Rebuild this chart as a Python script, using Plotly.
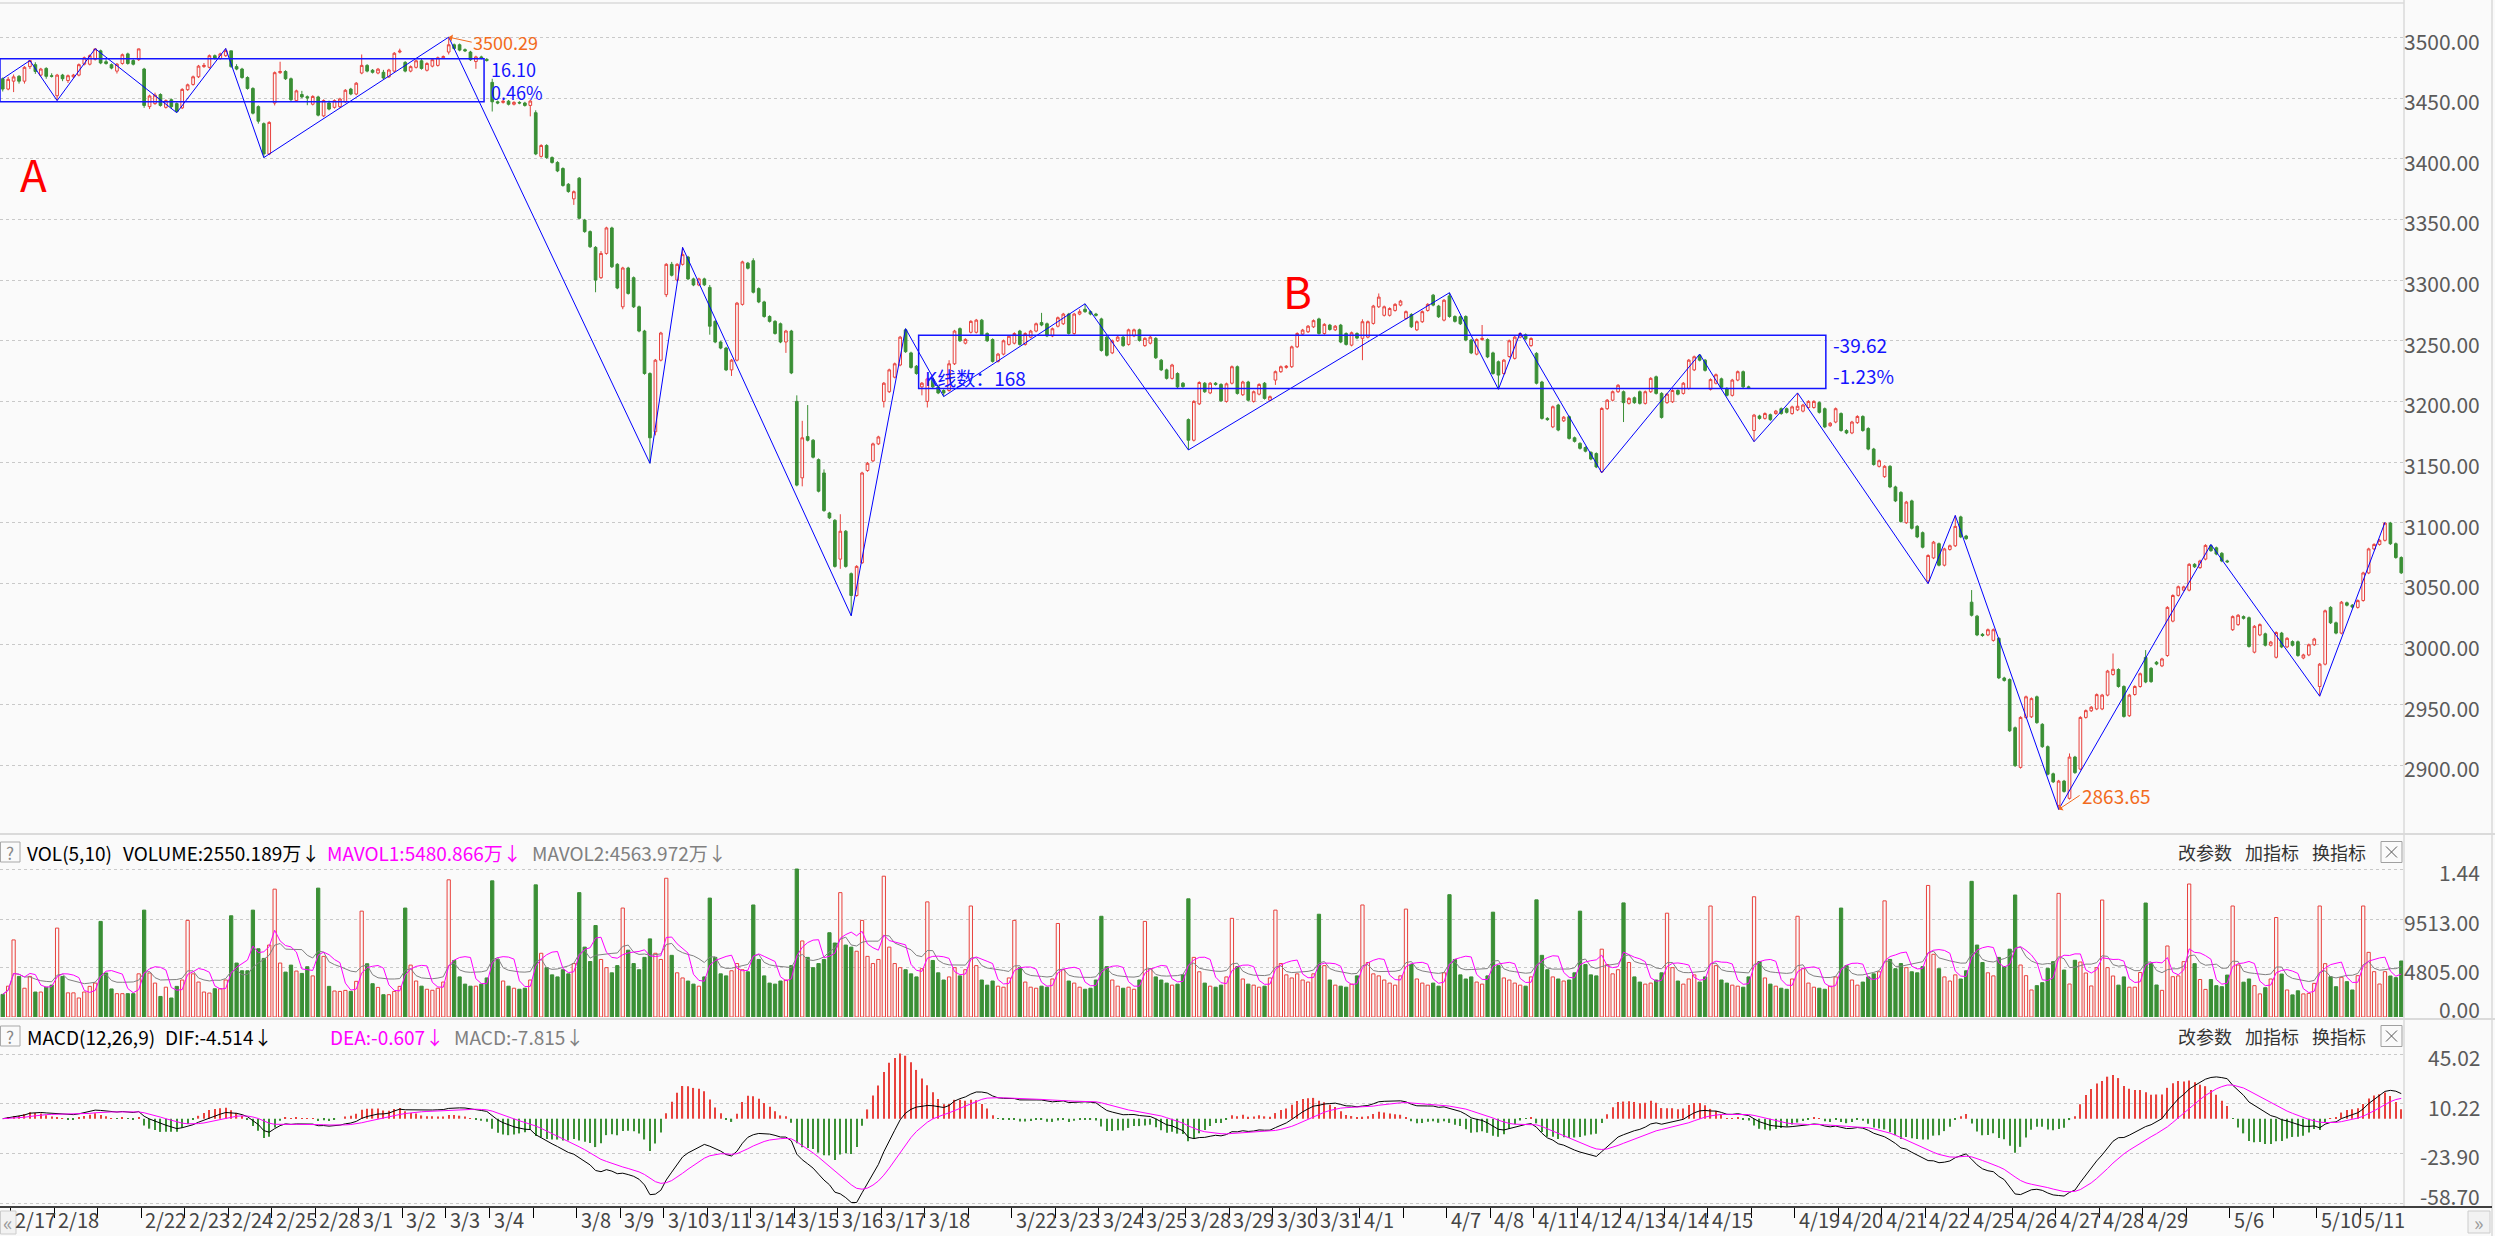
import numpy as np
import pandas as pd
import plotly.graph_objects as go

W, H = 2495, 1236

# ---------------- data (30-minute bars, 8 per trading day) ----------------
DAYS = ["2/17", "2/18", "2/21", "2/22", "2/23", "2/24", "2/25", "2/28", "3/1", "3/2", "3/3", "3/4",
        "3/7", "3/8", "3/9", "3/10", "3/11", "3/14", "3/15", "3/16", "3/17", "3/18", "3/21", "3/22",
        "3/23", "3/24", "3/25", "3/28", "3/29", "3/30", "3/31", "4/1", "4/6", "4/7", "4/8", "4/11",
        "4/12", "4/13", "4/14", "4/15", "4/18", "4/19", "4/20", "4/21", "4/22", "4/25", "4/26", "4/27",
        "4/28", "4/29", "5/5", "5/6", "5/9", "5/10", "5/11"]
HIDDEN_DAY_LABELS = ["2/21", "3/7", "3/21", "4/6", "4/18", "5/5", "5/9"]

OPEN = [
    3466, 3457.5,
    3464, 3468, 3464, 3476, 3477.6, 3469, 3474.5, 3468.5,
    3452, 3469, 3464.5, 3467.6, 3469, 3478, 3478, 3482,
    3489, 3480, 3477.6, 3472.3, 3478.6, 3486.5, 3481, 3481.7,
    3474, 3443, 3445.5, 3453, 3442.4, 3448.7, 3445.5, 3442,
    3457, 3461.3, 3467.6, 3476, 3475.4, 3485, 3482.7, 3485,
    3489, 3476, 3474, 3467, 3458, 3443, 3429, 3404,
    3446, 3471, 3472, 3466, 3448, 3453, 3451.2, 3445,
    3451, 3435.4, 3446, 3442.4, 3443, 3447, 3457.5, 3453.4,
    3470.7, 3477, 3473, 3470.7, 3471.3, 3467.6, 3472.3, 3488,
    3479.5, 3472.3, 3475.4, 3480.8, 3473, 3476.4, 3477, 3483.3,
    3488, 3494, 3494, 3490, 3488, 3480.2, 3484, 3482,
    3463, 3447, 3446.5, 3447.5, 3445, 3446.5, 3446, 3444,
    3438, 3402, 3411, 3401, 3397, 3392, 3379, 3367,
    3384, 3349.5, 3340, 3327, 3302, 3322, 3343, 3313,
    3278, 3310, 3302, 3278, 3258, 3223, 3175, 3234,
    3288, 3313, 3300, 3313, 3319, 3301, 3296, 3301,
    3294, 3266, 3249, 3244, 3226, 3234, 3280, 3314,
    3316, 3293, 3282, 3270, 3266, 3264, 3249, 3258,
    3200, 3137, 3171, 3168, 3152, 3141, 3108, 3102,
    3070, 3093, 3058, 3040, 3067, 3143, 3151, 3165,
    3200, 3208, 3220, 3230, 3259, 3240, 3229, 3212,
    3200, 3218, 3212, 3209, 3209, 3231, 3260, 3248,
    3257, 3257, 3267, 3256, 3251, 3233, 3239, 3247,
    3248, 3258, 3247, 3253, 3258, 3265, 3264, 3254,
    3262, 3264, 3272, 3256, 3272, 3276, 3274, 3272,
    3268, 3253, 3240, 3250, 3253, 3247, 3254, 3259,
    3246, 3248, 3252, 3234, 3226, 3219, 3223, 3215,
    3185, 3168, 3198, 3215, 3207, 3215, 3214, 3200,
    3215, 3228.6, 3205.5, 3216, 3200, 3206, 3215, 3201,
    3217.6, 3224.5, 3228, 3228.6, 3245, 3255.5, 3257.4, 3261.5,
    3268, 3256, 3262.9, 3259, 3262.9, 3256, 3246.4, 3256,
    3252, 3253, 3264.3, 3278, 3271, 3271, 3275, 3279.4,
    3268.4, 3271.7, 3259, 3265.7, 3275, 3287.6, 3278.6, 3267,
    3287, 3270, 3269.8, 3270, 3250.6, 3239, 3251, 3251,
    3240, 3232.7, 3223, 3237, 3235.5, 3253, 3255, 3246,
    3239.6, 3216, 3186, 3179, 3197, 3184, 3187.4, 3170,
    3165.4, 3162, 3158, 3157, 3142, 3194, 3201, 3208,
    3208, 3198.4, 3203, 3208, 3198.4, 3208, 3220.3, 3206.6,
    3199, 3199.7, 3209, 3206.6, 3210.7, 3226, 3238, 3234,
    3210, 3215, 3218.6, 3210.7, 3205, 3217.6, 3224.5, 3212,
    3176, 3188, 3186, 3189, 3190, 3194, 3194, 3190,
    3193, 3192, 3195, 3195, 3199, 3194, 3180, 3183,
    3190, 3176, 3174, 3182.5, 3187.6, 3177.7, 3160.7, 3146.5,
    3138, 3146.5, 3129.5, 3125, 3100, 3118, 3097, 3091.8,
    3052, 3071, 3082.7, 3065, 3078, 3081, 3104.8, 3089,
    3034.5, 3023, 3008, 3007.5, 3003, 3004.7, 2972, 2970.7,
    2931, 2898.3, 2939.5, 2940, 2956.5, 2933.8, 2915.4, 2893,
    2867, 2887, 2872.8, 2906.8, 2896.9, 2939.5, 2945, 2946.5,
    2946.5, 2957.9, 2974.9, 2979, 2965, 2940.9, 2958.4, 2965,
    2989, 2980, 2985, 2982, 2990.5, 3018.9, 3040.1, 3044.4,
    3044.4, 3065.7, 3063, 3070, 3081, 3079.3, 3074.8, 3068.5,
    3011.8, 3016, 3022.6, 3021.7, 2993.3, 3007.5, 3008.4, 2999,
    2989.1, 3009, 2997.6, 3002, 3001.9, 2988.5, 2991, 2999.4,
    2965, 2983.4, 3030.2, 3017.5, 3009, 3034, 3032, 3030.2,
    3035.9, 3058.6, 3078.4, 3082.1, 3085.5, 3099.7, 3082.7, 3071.3,
]

CLOSE = [
    3457.5, 3465.5,
    3467.5, 3464, 3475.4, 3481, 3472, 3474, 3468, 3468,
    3469, 3466, 3468.5, 3469, 3477.6, 3483.3, 3485, 3490.6,
    3479, 3478.6, 3474.8, 3478, 3485.8, 3478.6, 3478, 3490.6,
    3444, 3451.8, 3452.5, 3444, 3448, 3443, 3439, 3457.2,
    3461, 3467.6, 3476.4, 3477, 3485, 3482.7, 3486.5, 3489.2,
    3476, 3474, 3467, 3458, 3437.6, 3431, 3404, 3430,
    3471, 3472, 3466, 3448.7, 3456, 3451, 3450.2, 3451.4,
    3436, 3448, 3441, 3448, 3449.3, 3456.5, 3453.4, 3462.3,
    3477, 3472.3, 3471.3, 3473.9, 3466.6, 3473.2, 3487, 3488.8,
    3472.3, 3476, 3480.8, 3474.5, 3478.6, 3481.7, 3483.3, 3484.2,
    3494, 3491, 3489.6, 3489, 3481.7, 3484, 3483, 3481.1,
    3447, 3446, 3447.5, 3445, 3446.5, 3446, 3444, 3447.6,
    3404, 3411, 3401, 3397, 3390, 3378, 3373, 3372.9,
    3351, 3340, 3327.5, 3300, 3322, 3343, 3311, 3293.5,
    3310, 3289, 3278, 3258, 3223, 3170, 3234, 3256.4,
    3313, 3304, 3313, 3321, 3301, 3296, 3301, 3296.1,
    3262, 3249, 3244, 3226, 3234, 3281, 3315, 3309.8,
    3290, 3282, 3270, 3266, 3256, 3249, 3258, 3223.5,
    3131, 3170, 3168, 3154, 3126, 3110, 3104, 3064,
    3093, 3064, 3040, 3064, 3141, 3149, 3165, 3170.7,
    3215, 3226, 3231, 3253, 3241, 3228, 3223, 3215,
    3218.6, 3212, 3207, 3207, 3231, 3258, 3250, 3251.1,
    3266, 3267, 3255, 3250, 3233, 3239, 3250, 3253.7,
    3256, 3247, 3256, 3258, 3264, 3263, 3254, 3259.9,
    3269, 3272, 3256, 3272, 3274, 3274, 3272, 3271,
    3242, 3238, 3250, 3253, 3246, 3259, 3259, 3250.3,
    3252, 3253, 3236, 3226, 3219, 3230, 3212, 3212.2,
    3168, 3200, 3215.6, 3208, 3215, 3214, 3200.5, 3214.5,
    3228.6, 3206.6, 3216, 3201, 3208, 3214, 3202.5, 3203.9,
    3224.5, 3228.6, 3229, 3245, 3256, 3258.8, 3262, 3266.6,
    3256, 3263.5, 3259.3, 3262, 3249, 3247, 3256.6, 3252.2,
    3265.7, 3265.7, 3278.6, 3286, 3278, 3276.6, 3280, 3282.7,
    3274, 3261.5, 3265.7, 3274, 3280, 3279.4, 3269.8, 3283.4,
    3270, 3266, 3264, 3250.6, 3240, 3251, 3252, 3236.7,
    3223, 3221.7, 3234, 3250, 3253, 3256, 3251.6, 3251.9,
    3215, 3186, 3185, 3195.6, 3176.4, 3187, 3169.5, 3167.1,
    3161.3, 3159, 3152.5, 3146, 3194.2, 3201, 3208, 3213.3,
    3199, 3202.5, 3199, 3198.4, 3208, 3219, 3206.6, 3186.8,
    3206, 3209, 3206, 3215, 3234, 3236.8, 3234, 3225.6,
    3218, 3222, 3211.6, 3205, 3217.6, 3224.5, 3212, 3211.2,
    3188.7, 3186, 3190, 3185, 3192, 3190, 3191, 3195.5,
    3196, 3197, 3200, 3200, 3191, 3179, 3182, 3194,
    3176, 3174, 3183, 3187.6, 3176, 3160.7, 3148, 3151.1,
    3146.5, 3129.5, 3118, 3101, 3117, 3095.4, 3088.3, 3079.8,
    3073, 3084, 3065, 3078.4, 3081, 3097, 3088.3, 3086.9,
    3023.7, 3007.5, 3007, 3011.8, 3011.8, 2972.1, 2970, 2928.5,
    2899.7, 2939.5, 2956.5, 2955, 2935.2, 2915.4, 2892.7, 2886.4,
    2887, 2878.5, 2906.8, 2894, 2939.5, 2945.1, 2947.9, 2958.3,
    2957.9, 2977.7, 2979.2, 2965, 2940.3, 2957.9, 2965, 2975.5,
    2968.7, 2969, 2983.5, 2987.7, 3030.2, 3040, 3047.2, 3047.1,
    3065.7, 3063.7, 3068.5, 3081.3, 3077, 3074.2, 3068.5, 3067.8,
    3022.6, 3023.7, 3021.2, 2998, 3014.6, 3016, 2999, 3001.6,
    3009.5, 2997.6, 3004.7, 2999, 2990.5, 2991, 2999.4, 3004.1,
    2983.4, 3027.4, 3017.5, 3009, 3034.5, 3032, 3030.5, 3035.8,
    3058.6, 3078.4, 3082.1, 3085.5, 3099.7, 3082.7, 3071.3, 3058.7,
]

# wick lengths above the body top / below the body bottom (index points)
WICK_UP = [
    1, 2,
    2, 1, 1, 0, 2, 1, 1, 2,
    1, 1, 1, 1, 1, 1, 1, 0.2,
    1, 2, 1, 1, 1, 1, 1, 0.2,
    1, 1, 2, 1, 1, 1, 1, 1,
    1, 1, 1, 2, 1, 1, 1, 1.8,
    0, 2, 1, 1, 1, 1, 1, 1,
    1, 8, 1, 1, 1, 3, 1, 1,
    1, 1, 2, 1, 1, 1, 1, 1,
    9, 1, 1, 1, 2, 1, 1, 2,
    1, 1, 1, 2, 1, 1, 1, 1,
    6.29, 1, 1, 1, 1, 1, 1, 1,
    3, 1, 1, 1, 1, 1, 1, 1,
    2, 1, 1, 1, 1, 1, 1, 1,
    1, 1, 1, 1, 2, 1, 1, 1,
    1, 1, 1, 1, 1, 1, 1, 1,
    1, 2, 1, 6, 1, 1, 1, 1,
    2, 1, 1, 1, 1, 1, 1, 1,
    2, 1, 1, 1, 1, 1, 1, 1,
    5, 14, 26, 1, 1, 3, 1, 1,
    14, 1, 1, 1, 1, 1, 1, 1,
    1, 1, 1, 1, 1, 1, 1, 1,
    1, 1, 1, 1, 3, 1, 1, 1,
    1, 1, 1, 1, 1, 1, 1, 1,
    1, 1, 1, 1, 1, 8, 1, 1,
    1, 1, 1, 1, 2, 4.5, 1, 1,
    1, 1, 1, 1, 1, 1, 1, 1,
    1, 1, 1, 1, 1, 1, 1, 1,
    1, 1, 1, 1, 1, 1, 1, 1,
    1, 1, 1, 1, 1, 1, 1, 1,
    1, 1, 1, 1, 1, 1, 1, 1,
    1, 1, 1, 1, 1, 1, 1, 1,
    2, 1, 1, 3, 1, 1, 1, 1,
    1, 1, 1, 1, 1, 1, 1, 1,
    2.6, 1, 1, 1, 1, 1, 11, 1,
    1, 1, 1, 1, 1, 0.6, 1, 1,
    1, 1, 1, 1, 1, 1, 1, 1,
    1, 1, 1, 1, 1, 1, 1, 1,
    1, 1, 1, 1, 1, 1, 1, 1,
    1, 1, 1, 1, 1, 1, 1, 1,
    1, 1, 1, 1, 1, 1, 1, 1,
    1, 1, 1, 1, 1, 1, 1, 1,
    11, 1, 1, 1, 1, 1, 1, 1,
    1, 1, 1, 1, 1, 1, 1, 1,
    1, 1, 1, 1, 1, 1, 1, 1,
    1, 1, 1, 1, 1, 9, 1, 1,
    10, 1, 1, 1, 1, 1, 1, 1,
    1, 1, 1, 1, 1, 1, 1, 1,
    1, 1, 3, 1, 1, 1, 1, 1,
    1, 1, 13, 1, 1, 1, 1, 1,
    6, 1, 1, 1, 1, 1, 1, 1,
    1, 1, 1, 1, 1.1, 1, 1, 1,
    1, 1, 1, 1, 1, 1, 1, 1,
    1, 1, 1, 1, 1, 1, 1, 1,
    1, 1, 1, 1, 1, 1, 1, 1,
    1, 1, 1, 1, 0.6, 1, 1, 1,
]

WICK_DN = [
    2, 1,
    9, 2, 2, 2, 2, 1, 2, 1,
    4, 2, 2, 1, 1, 1, 1, 1,
    1, 1, 1, 2, 1, 1, 1, 1,
    2, 2, 1, 1, 1, 2, 1, 1,
    1, 1, 1, 1, 1, 1, 1, 1,
    1, 1, 1, 1, 1, 2, 3, 1,
    2, 1, 1, 1, 1, 1, 6, 1,
    1, 1, 1, 1, 1, 1, 1, 1,
    1, 1, 1, 1, 1, 1, 1, 1,
    1, 1, 1, 1, 1, 1, 1, 1,
    2, 1, 1, 1, 1, 6, 1, 1,
    8, 1, 1, 1, 1, 1, 1, 9,
    1, 1, 1, 1, 1, 1, 1, 5,
    1, 1, 1, 10, 1, 1, 1, 1,
    2, 1, 1, 1, 1, 21, 3, 1,
    2, 1, 1, 1, 1, 1, 1, 1,
    7, 1, 1, 1, 5, 1, 1, 1,
    1, 1, 1, 1, 1, 1, 9, 1,
    1, 7, 1, 1, 1, 1, 1, 1,
    8, 1, 16.7, 1, 1, 1, 1, 1,
    5, 1, 1, 1, 1, 1, 1, 7,
    5, 1, 1, 3, 1, 1, 1, 1,
    1, 1, 1, 1, 1, 1, 1, 1,
    1, 1, 1, 1, 1, 1, 1, 1,
    1, 1, 1, 1, 1, 1, 1, 1,
    1, 1, 1, 1, 1, 1, 1, 1,
    1, 1, 1, 1, 1, 1, 1, 1,
    8, 1, 1, 1, 1, 1, 1, 1,
    1, 1, 1, 1, 1, 1, 1, 1,
    4, 1, 1, 1, 1, 1, 1, 1,
    1, 1, 1, 1, 1, 1, 1, 1,
    18, 1, 1, 1, 1, 1, 1, 1,
    1, 1, 1, 1, 1, 1, 1, 1,
    1, 1, 1, 1, 1, 1, 1, 1,
    1, 11.7, 1, 1, 1, 1, 1, 1,
    1, 1, 1, 1, 1, 1, 1, 1,
    1, 1, 1, 1, 0.8, 1, 1, 1,
    16, 1, 1, 1, 1, 1, 1, 1,
    1, 1, 1, 1, 1, 1, 1, 1,
    1, 1, 1, 1, 1, 1, 1, 1,
    9.2, 1, 1, 1, 1, 1, 1, 1,
    1, 1, 1, 1, 1, 1, 1, 1,
    1, 1, 1, 1, 1, 1, 1, 1,
    1, 1, 1, 1, 1, 1, 1, 1,
    2.2, 1, 1, 1, 1, 1, 1, 1,
    1, 1, 1, 1, 1, 1, 1, 1,
    1, 1, 1, 1, 1, 1, 1, 1,
    3.35, 1, 1, 1, 1, 1, 1, 1,
    1, 1, 1, 1, 1, 1, 1, 1,
    1, 1, 1, 1, 1, 1, 1, 1,
    1, 1, 1, 1, 1, 1, 1, 1,
    1, 1, 1, 1, 1, 1, 1, 1,
    1, 1, 1, 1, 1, 1, 1, 1,
    8, 1, 1, 1, 1, 1, 1, 1,
    1, 1, 1, 1, 1, 1, 1, 1,
]

# volume in 万
VOLUME = [
    2200, 3000,
    7500, 3950, 2800, 3950, 2430, 2430, 2900, 3100,
    8650, 3950, 2350, 2350, 1850, 2430, 2980, 3300,
    9300, 4280, 2730, 2270, 2270, 2270, 2270, 4200,
    10400, 4280, 3300, 2000, 2900, 1850, 2980, 3600,
    9400, 4200, 3400, 2430, 2330, 2750, 2750, 3600,
    9850, 5250, 4500, 4500, 10400, 6640, 5700, 7000,
    12440, 5250, 4370, 5050, 4470, 4240, 4890, 4000,
    12540, 5900, 2980, 2530, 2490, 2590, 2490, 3470,
    10300, 5180, 3240, 2880, 2170, 2170, 2490, 2980,
    10600, 5050, 3500, 3000, 2700, 2600, 2800, 3400,
    13350, 5500, 3900, 3200, 3000, 3000, 3200, 3800,
    13250, 5600, 3500, 3000, 2800, 2700, 2800, 3600,
    12860, 6200, 4800, 4100, 3900, 4600, 4200, 5200,
    12100, 6800, 5400, 8900, 5600, 4800, 4300, 5000,
    10600, 6500, 5200, 4600, 5800, 7600, 6200, 5600,
    13500, 6000, 4300, 3800, 3500, 3200, 3000, 3900,
    11570, 5800, 4200, 4000, 4500, 5200, 4600, 4400,
    10900, 5600, 4000, 3300, 3200, 3500, 3600, 5000,
    14400, 7400, 5800, 4800, 5200, 5600, 8200, 7200,
    12100, 7000, 6800, 6400, 9400, 5900, 5200, 5600,
    13700, 6800, 5200, 4800, 4600, 4200, 3900, 4700,
    11200, 5500, 4300, 3600, 3900, 4800, 4000, 4600,
    10800, 5000, 3600, 3100, 3500, 3000, 2900, 3800,
    9400, 4800, 3400, 2900, 2800, 3000, 2900, 3700,
    9100, 4600, 3500, 3300, 2900, 2700, 2800, 3600,
    9800, 4900, 3600, 3000, 2800, 2900, 2700, 3600,
    9300, 4700, 3900, 3600, 3300, 3100, 3200, 4100,
    11500, 5800, 4400, 3300, 3000, 2900, 3100, 3900,
    9600, 4900, 3700, 3200, 3100, 2900, 3000, 3800,
    10400, 5200, 4100, 3800, 4200, 3600, 3400, 4200,
    10000, 5000, 3600, 3100, 3000, 2900, 3200, 4000,
    10900, 5300, 4200, 4000, 3600, 3300, 3100, 4000,
    10500, 5100, 3700, 3300, 3100, 3300, 3000, 4300,
    11900, 5600, 4100, 3700, 3900, 3400, 3200, 4000,
    10200, 5000, 3800, 3600, 3300, 3100, 3000, 3900,
    11400, 6000, 4600, 3900, 3700, 3500, 3600, 4300,
    10300, 5100, 4100, 4000, 6600, 5100, 4200, 4600,
    11100, 5300, 3900, 3400, 3200, 3300, 3600, 4300,
    10100, 4800, 3500, 3200, 3700, 4100, 3400, 3900,
    10800, 5000, 3600, 3300, 3100, 3000, 2900, 3900,
    11700, 5400, 3800, 3200, 3000, 2800, 2700, 3700,
    9800, 4700, 3300, 2900, 2800, 2700, 3000, 3900,
    10600, 5000, 3600, 3100, 3400, 3900, 4200, 4400,
    11300, 5600, 4700, 5200, 4800, 4400, 4300, 4900,
    12800, 6100, 4700, 3900, 3500, 4100, 3700, 4500,
    13200, 7000, 5300, 4300, 4000, 5800, 4900, 6600,
    11870, 5060, 4020, 2630, 3050, 3340, 4730, 5385,
    12030, 4570, 3210, 5520, 5350, 4280, 3020, 4800,
    11380, 4800, 3990, 3100, 3900, 2900, 2900, 4330,
    11090, 5200, 3115, 2595, 6910, 3920, 4000, 5385,
    12940, 5190, 3650, 2685, 3650, 3050, 2950, 4080,
    10800, 5060, 3390, 3700, 3050, 2250, 2850, 3700,
    9680, 4180, 2630, 2150, 2550, 2250, 2300, 3270,
    10800, 5190, 3920, 2950, 3860, 3440, 2630, 4020,
    10800, 6290, 4410, 3210, 4410, 3990, 3830, 5450,
]

# zig-zag turning points (bar index, which price: O=open, H=high, L=low)
ZIG_BARS = [0, 5, 10, 17, 32, 41, 48, 82, 119, 125, 156, 166, 173, 199, 218, 266, 275, 279,
            294, 312, 322, 330, 354, 359, 378, 406, 426, 438]
ZIG_KIND = ["O", "H", "L", "H", "L", "H", "L", "H", "L", "H", "L", "H", "L", "H", "L", "H", "L", "H",
            "L", "H", "L", "H", "L", "H", "L", "H", "L", "H"]

PRICE_TICKS = [2900, 2950, 3000, 3050, 3100, 3150, 3200, 3250, 3300, 3350, 3400, 3450, 3500]
VOL_TICKS = [0, 4805, 9513, 14400]
VOL_TICK_TEXT = ["0.00", "4805.00", "9513.00", "1.44"]
MACD_TICKS = [45.02, 10.22, -23.90, -58.70]
MACD_TICK_TEXT = ["45.02", "10.22", "-23.90", "-58.70"]

n = len(CLOSE)
assert len(OPEN) == n == len(WICK_UP) == len(WICK_DN) == len(VOLUME) == 2 + 8 * len(DAYS)

# ---------------- derived series ----------------
x = np.arange(n)
o = np.array(OPEN, float)
c = np.array(CLOSE, float)
hi = np.maximum(o, c) + np.array(WICK_UP, float)
lo = np.minimum(o, c) - np.array(WICK_DN, float)
up = c >= o

vol = pd.Series(VOLUME, dtype=float)
mavol1 = vol.rolling(5, min_periods=1).mean()
mavol2 = vol.rolling(10, min_periods=1).mean()

cs = pd.Series(c)
dif = cs.ewm(span=12, adjust=False).mean() - cs.ewm(span=26, adjust=False).mean()
dea = dif.ewm(span=9, adjust=False).mean()
macd = 2 * (dif - dea)

zig_y = []
for b, k in zip(ZIG_BARS, ZIG_KIND):
    zig_y.append(o[b] if k == "O" else (hi[b] if k == "H" else lo[b]))

# ---------------- styling ----------------
BG = "#fafafa"
UP = "#e8413c"
DN = "#3a8f35"
BLUE = "#1414ff"
ORANGE = "#f26b1d"
GRID = "#c9c9c9"
FONT = "Noto Sans CJK SC"


def PX(v):
    return v / W


def PY(v):
    return 1 - v / H


fig = go.Figure()

fig.add_trace(go.Candlestick(
    x=x, open=o, high=hi, low=lo, close=c,
    increasing=dict(line=dict(color=UP, width=1), fillcolor=BG),
    decreasing=dict(line=dict(color=DN, width=1), fillcolor=DN),
    whiskerwidth=0, xaxis="x", yaxis="y", showlegend=False, hoverinfo="skip"))

fig.add_trace(go.Scatter(x=ZIG_BARS, y=zig_y, mode="lines", line=dict(color="#0000ff", width=1),
                         xaxis="x", yaxis="y", showlegend=False, hoverinfo="skip"))

fig.add_trace(go.Bar(
    x=x, y=vol, width=0.6,
    marker=dict(color=[BG if u else DN for u in up],
                line=dict(color=[UP if u else DN for u in up], width=1)),
    xaxis="x", yaxis="y2", showlegend=False, hoverinfo="skip"))
fig.add_trace(go.Scatter(x=x, y=mavol2, mode="lines", line=dict(color="#808080", width=1),
                         xaxis="x", yaxis="y2", showlegend=False, hoverinfo="skip"))
fig.add_trace(go.Scatter(x=x, y=mavol1, mode="lines", line=dict(color="#ff00ff", width=1),
                         xaxis="x", yaxis="y2", showlegend=False, hoverinfo="skip"))

fig.add_trace(go.Bar(
    x=x, y=macd, width=0.22,
    marker=dict(color=[UP if v >= 0 else DN for v in macd], line=dict(width=0)),
    xaxis="x", yaxis="y3", showlegend=False, hoverinfo="skip"))
fig.add_trace(go.Scatter(x=x, y=dif, mode="lines", line=dict(color="#000000", width=1),
                         xaxis="x", yaxis="y3", showlegend=False, hoverinfo="skip"))
fig.add_trace(go.Scatter(x=x, y=dea, mode="lines", line=dict(color="#ff00ff", width=1),
                         xaxis="x", yaxis="y3", showlegend=False, hoverinfo="skip"))

day_starts = [2 + 8 * i - 0.5 for i in range(len(DAYS))]

ygrid = dict(showgrid=True, gridcolor=GRID, griddash="dot", gridwidth=1, zeroline=False,
             showticklabels=False, ticks="", showline=False, anchor="x", fixedrange=True)

fig.update_layout(
    width=W, height=H, margin=dict(l=0, r=0, t=0, b=0),
    paper_bgcolor=BG, plot_bgcolor=BG, showlegend=False, barmode="overlay",
    font=dict(family=FONT),
    xaxis=dict(domain=[0, PX(2404)], range=[-0.5, n - 0.5], anchor="y3", showgrid=False,
               zeroline=False, showline=False, ticks="outside", ticklen=10, tickwidth=1,
               tickcolor="#000000", tickvals=day_starts, showticklabels=False,
               rangeslider=dict(visible=False), fixedrange=True),
    yaxis=dict(domain=[PY(834), PY(3)], range=[2843.4, 3528.44], tickvals=PRICE_TICKS, **ygrid),
    yaxis2=dict(domain=[PY(1017), PY(834)], range=[0, 17806], tickvals=VOL_TICKS, **ygrid),
    yaxis3=dict(domain=[PY(1207), PY(1019)], range=[-61.48, 69.38], tickvals=MACD_TICKS, **ygrid),
)

shapes = []
# annotated ranges
shapes.append(dict(type="rect", xref="x", yref="y", x0=-0.5, x1=88.5, y0=3447.1, y1=3482.4,
                   line=dict(color=BLUE, width=1.5)))
shapes.append(dict(type="rect", xref="x", yref="y", x0=168.4, x1=335.2, y0=3210.6, y1=3254.5,
                   line=dict(color=BLUE, width=1.5)))
# frame lines
LINE = "#dadada"
shapes += [
    dict(type="line", xref="paper", yref="paper", x0=0, x1=PX(2404), y0=PY(3), y1=PY(3), line=dict(color=LINE, width=1.5)),
    dict(type="line", xref="paper", yref="paper", x0=0, x1=PX(2495), y0=PY(834), y1=PY(834), line=dict(color=LINE, width=2)),
    dict(type="line", xref="paper", yref="paper", x0=0, x1=PX(2495), y0=PY(1019), y1=PY(1019), line=dict(color=LINE, width=2)),
    dict(type="line", xref="paper", yref="paper", x0=PX(2404), x1=PX(2404), y0=PY(0), y1=PY(1207), line=dict(color=LINE, width=1.5)),
    dict(type="line", xref="paper", yref="paper", x0=PX(2492), x1=PX(2492), y0=PY(0), y1=PY(1236), line=dict(color=LINE, width=1.5)),
    dict(type="line", xref="paper", yref="paper", x0=0, x1=PX(2492), y0=PY(1207), y1=PY(1207), line=dict(color="#000000", width=1.5)),
]
# ? boxes and close boxes
for yc in (852, 1036):
    shapes.append(dict(type="rect", xref="paper", yref="paper", x0=PX(0.5), x1=PX(20), y0=PY(yc + 10), y1=PY(yc - 10),
                       line=dict(color="#a8a8a8", width=1), fillcolor=BG))
    shapes.append(dict(type="rect", xref="paper", yref="paper", x0=PX(2381), x1=PX(2402), y0=PY(yc + 10.5), y1=PY(yc - 10.5),
                       line=dict(color="#a0a0a0", width=1), fillcolor=BG))
    shapes.append(dict(type="line", xref="paper", yref="paper", x0=PX(2386), x1=PX(2397), y0=PY(yc - 5.5), y1=PY(yc + 5.5),
                       line=dict(color="#555555", width=1)))
    shapes.append(dict(type="line", xref="paper", yref="paper", x0=PX(2386), x1=PX(2397), y0=PY(yc + 5.5), y1=PY(yc - 5.5),
                       line=dict(color="#555555", width=1)))
# scroll buttons
shapes.append(dict(type="rect", xref="paper", yref="paper", x0=PX(0.5), x1=PX(16), y0=PY(1234), y1=PY(1211),
                   line=dict(color="#cccccc", width=1), fillcolor="#f2f2f2"))
shapes.append(dict(type="rect", xref="paper", yref="paper", x0=PX(2468), x1=PX(2490), y0=PY(1233), y1=PY(1211),
                   line=dict(color="#cccccc", width=1), fillcolor="#f2f2f2"))

ann = []
LAB = dict(size=21, color="#5a5a5a", family=FONT)
for v in PRICE_TICKS:
    ann.append(dict(xref="paper", yref="y", x=PX(2482), y=v, text=f"{v:.2f}", showarrow=False,
                    xanchor="right", yanchor="middle", yshift=-3, font=LAB))
for v, t in zip(VOL_TICKS, VOL_TICK_TEXT):
    ann.append(dict(xref="paper", yref="y2", x=PX(2482), y=v, text=t, showarrow=False,
                    xanchor="right", yanchor="middle", yshift=(8 if v == 0 else -3), font=LAB))
for v, t in zip(MACD_TICKS, MACD_TICK_TEXT):
    ann.append(dict(xref="paper", yref="y3", x=PX(2482), y=v, text=t, showarrow=False,
                    xanchor="right", yanchor="middle", yshift=(7.5 if v < -50 else -3), font=LAB))

# date labels (left-aligned just right of each day's tick)
for i, d in enumerate(DAYS):
    if d in HIDDEN_DAY_LABELS:
        continue
    ann.append(dict(xref="x", yref="paper", x=day_starts[i], y=PY(1236), text=d, showarrow=False,
                    xanchor="left", yanchor="bottom", xshift=3, yshift=1, borderpad=0,
                    font=dict(size=20, color="#444444", family=FONT)))

# panel headers
HDR = 19
def hdr(xp, yp, text, color):
    return dict(xref="paper", yref="paper", x=PX(xp), y=PY(yp), text=text, showarrow=False,
                xanchor="left", yanchor="middle", font=dict(size=HDR, color=color, family=FONT))

ann += [
    hdr(25, 852, "VOL(5,10)", "#000000"),
    hdr(121, 852, "VOLUME:2550.189万↓", "#000000"),
    hdr(325, 852, "MAVOL1:5480.866万↓", "#ff00ff"),
    hdr(530, 852, "MAVOL2:4563.972万↓", "#808080"),
    hdr(25, 1036, "MACD(12,26,9)", "#000000"),
    hdr(163, 1036, "DIF:-4.514↓", "#000000"),
    hdr(328, 1036, "DEA:-0.607↓", "#ff00ff"),
    hdr(452, 1036, "MACD:-7.815↓", "#808080"),
]
for yc in (852, 1036):
    ann.append(dict(xref="paper", yref="paper", x=PX(10.3), y=PY(yc), text="?", showarrow=False,
                    xanchor="center", yanchor="middle", font=dict(size=17, color="#888888", family=FONT)))
    for xp, t in ((2176, "改参数"), (2243, "加指标"), (2310, "换指标")):
        ann.append(dict(xref="paper", yref="paper", x=PX(xp), y=PY(yc), text=t, showarrow=False,
                        xanchor="left", yanchor="middle", font=dict(size=18, color="#333333", family=FONT)))
ann.append(dict(xref="paper", yref="paper", x=PX(8), y=PY(1222), text="«", showarrow=False,
                xanchor="center", yanchor="middle", font=dict(size=20, color="#9a9a9a", family=FONT)))
ann.append(dict(xref="paper", yref="paper", x=PX(2479), y=PY(1222), text="»", showarrow=False,
                xanchor="center", yanchor="middle", font=dict(size=20, color="#9a9a9a", family=FONT)))

# range labels
BL = dict(size=19, color=BLUE, family=FONT)
ann += [
    dict(xref="x", yref="y", x=89.6, y=3464.4, text="16.10<br>0.46%", showarrow=False, xanchor="left",
         yanchor="middle", align="left", borderpad=0, font=dict(size=18, color=BLUE, family=FONT)),
    dict(xref="x", yref="y", x=169.2, y=3219.9, text="K线数：168", showarrow=False, xanchor="left", yanchor="middle", font=BL),
    dict(xref="x", yref="y", x=336.1, y=3247.1, text="-39.62", showarrow=False, xanchor="left", yanchor="middle", font=BL),
    dict(xref="x", yref="y", x=336.1, y=3221.5, text="-1.23%", showarrow=False, xanchor="left", yanchor="middle", font=BL),
    dict(xref="x", yref="y", x=5.75, y=3388.3, text="A", showarrow=False, xanchor="center", yanchor="middle",
         font=dict(size=44, color="#ff0000", family=FONT)),
    dict(xref="x", yref="y", x=238.1, y=3291.8, text="B", showarrow=False, xanchor="center", yanchor="middle",
         font=dict(size=44, color="#ff0000", family=FONT)),
]
# extreme price labels
imax = int(np.argmax(hi))
imin = int(np.argmin(lo))
ann.append(dict(xref="x", yref="y", x=imax, y=hi[imax], text=f"{hi[imax]:.2f}", showarrow=True,
                ax=23, ay=5, xanchor="left", yanchor="middle", arrowcolor=ORANGE, arrowwidth=1,
                arrowhead=1, arrowsize=1.2, standoff=0, borderpad=0,
                font=dict(size=18, color=ORANGE, family=FONT)))
ann.append(dict(xref="x", yref="y", x=imin, y=lo[imin], text=f"{lo[imin]:.2f}", showarrow=True,
                ax=21, ay=-14, xanchor="left", yanchor="middle", arrowcolor=ORANGE, arrowwidth=1,
                arrowhead=1, arrowsize=1.2, standoff=0, font=dict(size=19, color=ORANGE, family=FONT)))

fig.update_layout(shapes=shapes, annotations=ann)
fig.write_html("out.html")
